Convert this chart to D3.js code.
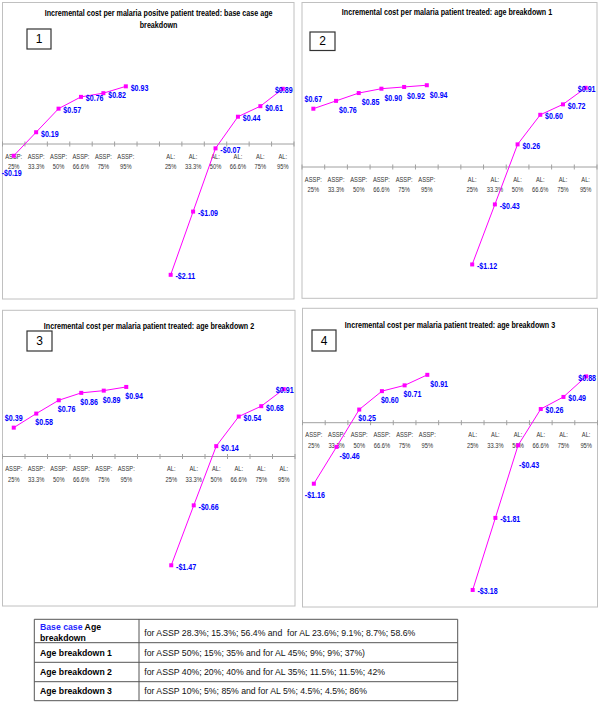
<!DOCTYPE html>
<html><head><meta charset="utf-8">
<script src="https://cdn.jsdelivr.net/npm/d3@7"></script>
<style>html,body{margin:0;padding:0;background:#fff;} svg{display:block;} text{white-space:pre;}</style>
</head><body>
<svg id="chart" width="600" height="706"></svg>
<script>
// ---------- data ----------
const asspPct = ["25%", "33.3%", "50%", "66.6%", "75%", "95%"];
const alPct = ["25%", "33.3%", "50%", "66.6%", "75%", "95%"];
const asspCats = asspPct.map(p => "ASSP:|" + p);
const alCats = alPct.map(p => "AL:|" + p);
const categories = [...asspCats, "gap", ...alCats];

const p1Assp = [-0.19, 0.19, 0.57, 0.76, 0.82, 0.93];
const p1Al = [-2.11, -1.09, -0.07, 0.44, 0.61, 0.89];
const p2Assp = [0.67, 0.76, 0.85, 0.90, 0.92, 0.94];
const p2Al = [-1.12, -0.43, 0.26, 0.60, 0.72, 0.91];
const p3Assp = [0.39, 0.58, 0.76, 0.86, 0.89, 0.94];
const p3Al = [-1.47, -0.66, 0.14, 0.54, 0.68, 0.91];
const p4Assp = [-1.16, -0.46, 0.25, 0.60, 0.71, 0.91];
const p4Al = [-3.18, -1.81, -0.43, 0.26, 0.49, 0.88];

const titles = [
  ["Incremental cost per malaria positve patient treated: base case age", "breakdown"],
  ["Incremental cost per malaria patient treated: age breakdown 1"],
  ["Incremental cost per malaria patient treated: age breakdown 2"],
  ["Incremental cost per malaria patient treated: age breakdown 3"]
];
const panelNumbers = ["1", "2", "3", "4"];
const yDomains = [[-2.5, 1], [-1.5, 1], [-2, 1], [-3.5, 1]];

const tableLabels = ["Age breakdown 1", "Age breakdown 2", "Age breakdown 3"];
const tableFirstLabel = ["Base case", " Age", "breakdown"];
const tableDesc = [
  "for ASSP 28.3%; 15.3%; 56.4% and  for AL 23.6%; 9.1%; 8.7%; 58.6%",
  "for ASSP 50%; 15%; 35% and for AL 45%; 9%; 9%; 37%)",
  "for ASSP 40%; 20%; 40% and for AL 35%; 11.5%; 11.5%; 42%",
  "for ASSP 10%; 5%; 85% and for AL 5%; 4.5%; 4.5%; 86%"
];

// ---------- label placement (style) ----------
const labelPlace = [
  {assp: ["b2", "r", "r", "r", "r", "r"], al: ["r", "r", "r", "r", "r", "c"]},
  {assp: ["a", "rb", "rb", "rb", "rb", "rb"], al: ["r", "r", "r", "r", "r", "c"]},
  {assp: ["a", "br", "br", "br", "br", "br"], al: ["r", "r", "r", "r", "r", "c"]},
  {assp: ["b", "rb", "br", "br", "br", "rb"], al: ["r", "r", "bb", "r", "r", "c"]}
];
const placeDefs = {
  r:  {anchor: "start", dx: 4.8, dy: 1},
  c:  {anchor: "middle", dx: 1, dy: 0.7},
  a:  {anchor: "middle", dx: 0, dy: -10.5},
  b:  {anchor: "middle", dx: 1, dy: 10.6},
  b2: {anchor: "middle", dx: -2, dy: 17},
  rb: {anchor: "start", dx: 3, dy: 9},
  br: {anchor: "start", dx: -1, dy: 8.5},
  bb: {anchor: "start", dx: 1, dy: 19}
};

// ---------- layout ----------
const panels = [
  {x0: 2.5, y0: 2.5, x1: 294, y1: 299, top: 82, bottom: 299, titleX: 158.6, titleY: 15.8, box: [27, 29, 24, 20]},
  {x0: 302, y0: 2.5, x1: 597, y1: 298.3, top: 80, bottom: 297.5, titleX: 447, titleY: 15.2, box: [310, 32, 25, 18.5]},
  {x0: 2.5, y0: 310.3, x1: 295, y1: 606, top: 382.5, bottom: 604.5, titleX: 149, titleY: 328.7, box: [27, 331, 25, 20]},
  {x0: 302.5, y0: 308.3, x1: 597.5, y1: 607, top: 370.1, bottom: 606.8, titleX: 450, titleY: 327.7, box: [312, 330, 24, 21]}
];
const seriesData = [[p1Assp, p1Al], [p2Assp, p2Al], [p3Assp, p3Al], [p4Assp, p4Al]];

const SX = 0.76;
const FONT = "'Liberation Sans', Arial, Helvetica, sans-serif";
const MAGENTA = "#ff00ff";
const BLUE = "#0000ff";

const svg = d3.select("#chart");
svg.append("rect").attr("width", 600).attr("height", 706).attr("fill", "#fff");

function ctext(g, x, y, str, o) {
  return g.append("text")
    .attr("transform", `translate(${x},${y}) scale(${o.sx ?? SX},1)`)
    .attr("text-anchor", o.anchor || "middle")
    .attr("font-family", FONT)
    .attr("font-size", o.size)
    .attr("font-weight", o.weight || "normal")
    .attr("fill", o.fill || "#000")
    .text(str);
}

function fmt(v) {
  return (v < 0 ? "-$" : "$") + Math.abs(v).toFixed(2);
}

panels.forEach((P, i) => {
  const g = svg.append("g");
  g.append("rect").attr("x", P.x0).attr("y", P.y0)
    .attr("width", P.x1 - P.x0).attr("height", P.y1 - P.y0)
    .attr("fill", "#fff").attr("stroke", "#c0c0c0").attr("stroke-width", 1);

  const x = d3.scaleBand().domain(categories).range([P.x0, P.x1]).padding(0);
  const y = d3.scaleLinear().domain(yDomains[i]).range([P.bottom, P.top]);
  const y0 = y(0);

  // axis
  const axis = d3.axisBottom(x).tickSize(0).tickFormat("");
  const ag = g.append("g").attr("transform", `translate(0,${y0})`).call(axis);
  ag.select(".domain").attr("stroke", "#a0a0a0").attr("d", `M${P.x0},0H${P.x1}`);
  // tick marks at band boundaries
  const bounds = categories.map(c => x(c)).concat([P.x1]);
  g.selectAll("line.tk").data(bounds).enter().append("line")
    .attr("x1", d => d).attr("x2", d => d)
    .attr("y1", y0 - 2.5).attr("y2", y0 + 2.5)
    .attr("stroke", "#a0a0a0").attr("stroke-width", 1);
  // tick labels
  categories.forEach(c => {
    if (c === "gap") return;
    const [a, b] = c.split("|");
    const cx = x(c) + x.bandwidth() / 2;
    ctext(g, cx, y0 + 14.5, a, {size: 8, fill: "#333", sx: 0.72});
    ctext(g, cx, y0 + 25, b, {size: 8, fill: "#333", sx: 0.72});
  });

  // title
  titles[i].forEach((t, k) => {
    ctext(g, P.titleX, P.titleY + k * 12.5, t, {size: 9.8, weight: "bold", sx: 0.73});
  });

  // number box
  const [bx, by, bw, bh] = P.box;
  g.append("rect").attr("x", bx).attr("y", by).attr("width", bw).attr("height", bh)
    .attr("fill", "#fff").attr("stroke", "#333").attr("stroke-width", 1.2);
  g.append("text").attr("x", bx + bw / 2).attr("y", by + bh / 2 + 4.2)
    .attr("text-anchor", "middle").attr("font-family", FONT).attr("font-size", 12)
    .attr("fill", "#000").text(panelNumbers[i]);

  // series
  const [asspVals, alVals] = seriesData[i];
  const series = [
    {cats: asspCats, vals: asspVals, place: labelPlace[i].assp},
    {cats: alCats, vals: alVals, place: labelPlace[i].al}
  ];
  series.forEach(s => {
    const pts = s.vals.map((v, k) => ({x: x(s.cats[k]) + x.bandwidth() / 2, y: y(v), v, p: s.place[k]}));
    const line = d3.line().x(d => d.x).y(d => d.y);
    g.append("path").datum(pts).attr("d", line)
      .attr("fill", "none").attr("stroke", MAGENTA).attr("stroke-width", 1);
    g.selectAll(null).data(pts).enter().append("rect")
      .attr("x", d => d.x - 2).attr("y", d => d.y - 2)
      .attr("width", 4).attr("height", 4).attr("fill", MAGENTA);
    pts.forEach(d => {
      const pd = placeDefs[d.p];
      ctext(g, d.x + pd.dx, d.y + pd.dy + 3.4, fmt(d.v),
        {size: 9.6, weight: "bold", fill: BLUE, anchor: pd.anchor, sx: 0.74});
    });
  });
});

// ---------- table ----------
const T = {x0: 34.3, x1: 457.7, xd: 139, rows: [619.3, 642.7, 662.3, 681.7, 700.7]};
const tg = svg.append("g");
const TF = 8.7;
T.rows.forEach(ry => tg.append("line").attr("x1", T.x0).attr("x2", T.x1)
  .attr("y1", ry).attr("y2", ry).attr("stroke", "#555").attr("stroke-width", 1));
[T.x0, T.xd, T.x1].forEach(cx => tg.append("line").attr("x1", cx).attr("x2", cx)
  .attr("y1", T.rows[0]).attr("y2", T.rows[4]).attr("stroke", "#555").attr("stroke-width", 1));

// first row label
const t1 = tg.append("text").attr("x", 40).attr("y", 629.5)
  .attr("font-family", FONT).attr("font-size", TF).attr("font-weight", "bold");
t1.append("tspan").attr("fill", "#1f1fff").text(tableFirstLabel[0]);
t1.append("tspan").attr("fill", "#000").text(tableFirstLabel[1]);
tg.append("text").attr("x", 40).attr("y", 640.5)
  .attr("font-family", FONT).attr("font-size", TF).attr("font-weight", "bold")
  .attr("fill", "#000").text(tableFirstLabel[2]);

tableLabels.forEach((lab, k) => {
  const cy = (T.rows[k + 1] + T.rows[k + 2]) / 2;
  tg.append("text").attr("x", 40).attr("y", cy + 3.2)
    .attr("font-family", FONT).attr("font-size", TF).attr("font-weight", "bold")
    .attr("fill", "#000").text(lab);
});
tableDesc.forEach((d, k) => {
  const cy = (T.rows[k] + T.rows[k + 1]) / 2 + (k === 0 ? 1.7 : 0);
  tg.append("text").attr("x", 144.3).attr("y", cy + 3.2)
    .attr("font-family", FONT).attr("font-size", TF)
    .attr("fill", "#111").text(d);
});
</script>
</body></html>
